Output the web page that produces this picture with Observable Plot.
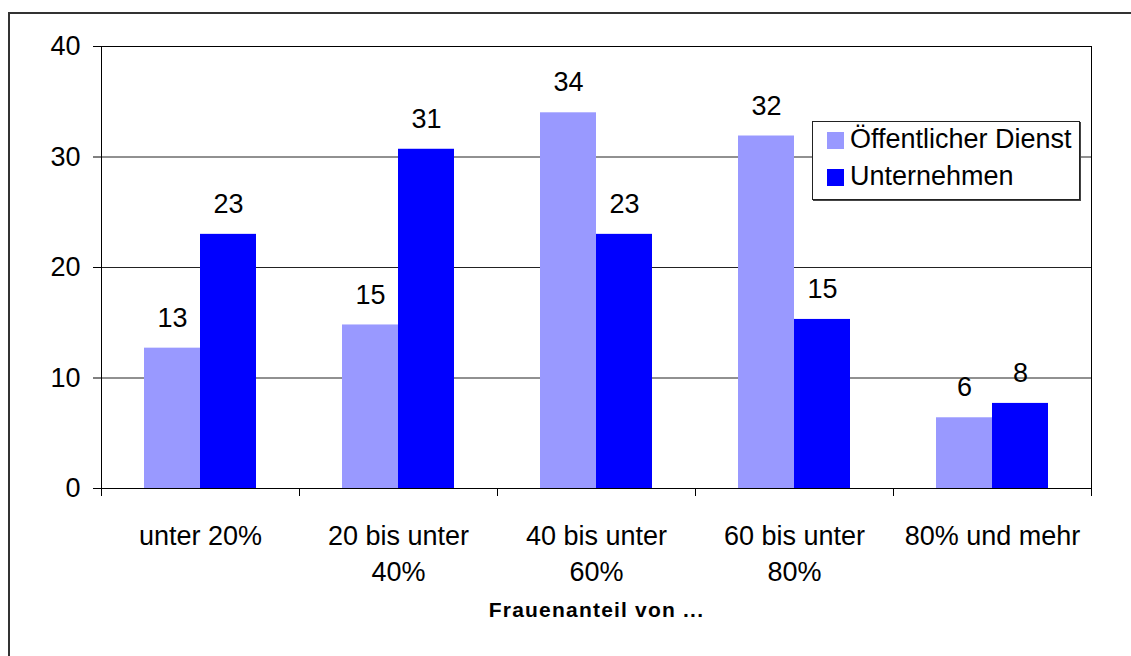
<!DOCTYPE html>
<html>
<head>
<meta charset="utf-8">
<script src="https://cdn.jsdelivr.net/npm/d3@7"></script>
<script src="https://cdn.jsdelivr.net/npm/@observablehq/plot@0.6"></script>
<style>
  html, body { margin: 0; padding: 0; background: #fff; }
  #wrap { position: relative; width: 1131px; height: 656px; overflow: hidden; font-family: "Liberation Sans", Arial, sans-serif; }
  #border { position: absolute; left: 8px; top: 12px; width: 2000px; height: 2000px; border-left: 2px solid #333; border-top: 2px solid #333; box-sizing: border-box; pointer-events: none; }
  #chart { position: absolute; left: 0; top: 0; }
  #legend { position: absolute; left: 812px; top: 121px; width: 268px; height: 79px; box-sizing: border-box; border: 1px solid #222; box-shadow: 1px 1px 0 #444; background: #fff; }
  .item { position: absolute; left: 14px; height: 36px; line-height: 36px; font-size: 27px; color: #000; white-space: nowrap; }
  .sw { display: inline-block; width: 17px; height: 17px; margin-right: 6px; vertical-align: -1px; }
</style>
</head>
<body>
<div id="wrap">
  <div id="chart"></div>
  <div id="border"></div>
  <div id="legend"></div>
</div>
<script>
const categories = ["unter 20%", "20 bis unter\n40%", "40 bis unter\n60%", "60 bis unter\n80%", "80% und mehr"];
const series = ["Öffentlicher Dienst", "Unternehmen"];
const oeffentlich = [12.7, 14.8, 34.0, 31.9, 6.4];
const unternehmen = [23.0, 30.7, 23.0, 15.3, 7.7];
const labelsOeffentlich = [13, 15, 34, 32, 6];
const labelsUnternehmen = [23, 31, 23, 15, 8];
const colors = ["#9999FF", "#0000FF"];
const yTicks = [0, 10, 20, 30, 40];
const gridTicks = [10, 20, 30];
const axisTitle = "Frauenanteil von ...";

const rows = [];
categories.forEach((c, i) => {
  rows.push({cat: c, series: series[0], value: oeffentlich[i], label: labelsOeffentlich[i]});
  rows.push({cat: c, series: series[1], value: unternehmen[i], label: labelsUnternehmen[i]});
});

const font = "'Liberation Sans', Arial, sans-serif";

const chart = Plot.plot({
  width: 1131,
  height: 656,
  marginLeft: 100,
  marginRight: 40,
  marginTop: 46,
  marginBottom: 168,
  style: {fontFamily: font, fontSize: "27px", color: "#000", background: "transparent", overflow: "visible"},
  fx: {domain: categories, padding: 0, axis: null, label: null},
  x: {domain: series, paddingInner: 0, paddingOuter: 0.737, axis: null},
  y: {domain: [0, 40], axis: null},
  color: {domain: series, range: colors},
  marks: [
    Plot.ruleY(gridTicks, {stroke: "#222", strokeWidth: 1}),
    Plot.barY(rows, {fx: "cat", x: "series", y: "value", fill: "series"}),
    Plot.text(rows, {fx: "cat", x: "series", y: "value", text: "label", dy: -30, fontSize: 27, fill: "#000"}),
    Plot.frame({facet: "super", stroke: "#000", strokeWidth: 1}),
    Plot.axisY({ticks: yTicks, tickSize: 8, tickPadding: 13, fontSize: 27, label: null, stroke: "#000"}),
    Plot.axisFx({anchor: "bottom", tickSize: 0, tickPadding: 30, fontSize: 27, lineHeight: 1.36, label: null}),
    Plot.axisFx({anchor: "bottom", tickSize: 8, tickFormat: () => "", dx: -99, label: null, stroke: "#000"}),
    Plot.axisFx({anchor: "bottom", tickSize: 8, tickFormat: () => "", dx: 99, label: null, stroke: "#000"}),
    Plot.text([axisTitle], {facet: "super", frameAnchor: "bottom", dy: 128, fontSize: 21, fontWeight: "bold", fill: "#000"})
  ]
});
d3.select(chart).selectAll("text").filter(function() { return this.textContent === axisTitle; })
  .attr("letter-spacing", "1.2px");
document.getElementById("chart").appendChild(chart);

const legend = document.getElementById("legend");
series.forEach((s, i) => {
  const item = document.createElement("div");
  item.className = "item";
  item.style.top = (i * 37 - 1) + "px";
  const sw = document.createElement("span");
  sw.className = "sw";
  sw.style.background = colors[i];
  item.appendChild(sw);
  item.appendChild(document.createTextNode(s));
  legend.appendChild(item);
});
</script>
</body>
</html>
